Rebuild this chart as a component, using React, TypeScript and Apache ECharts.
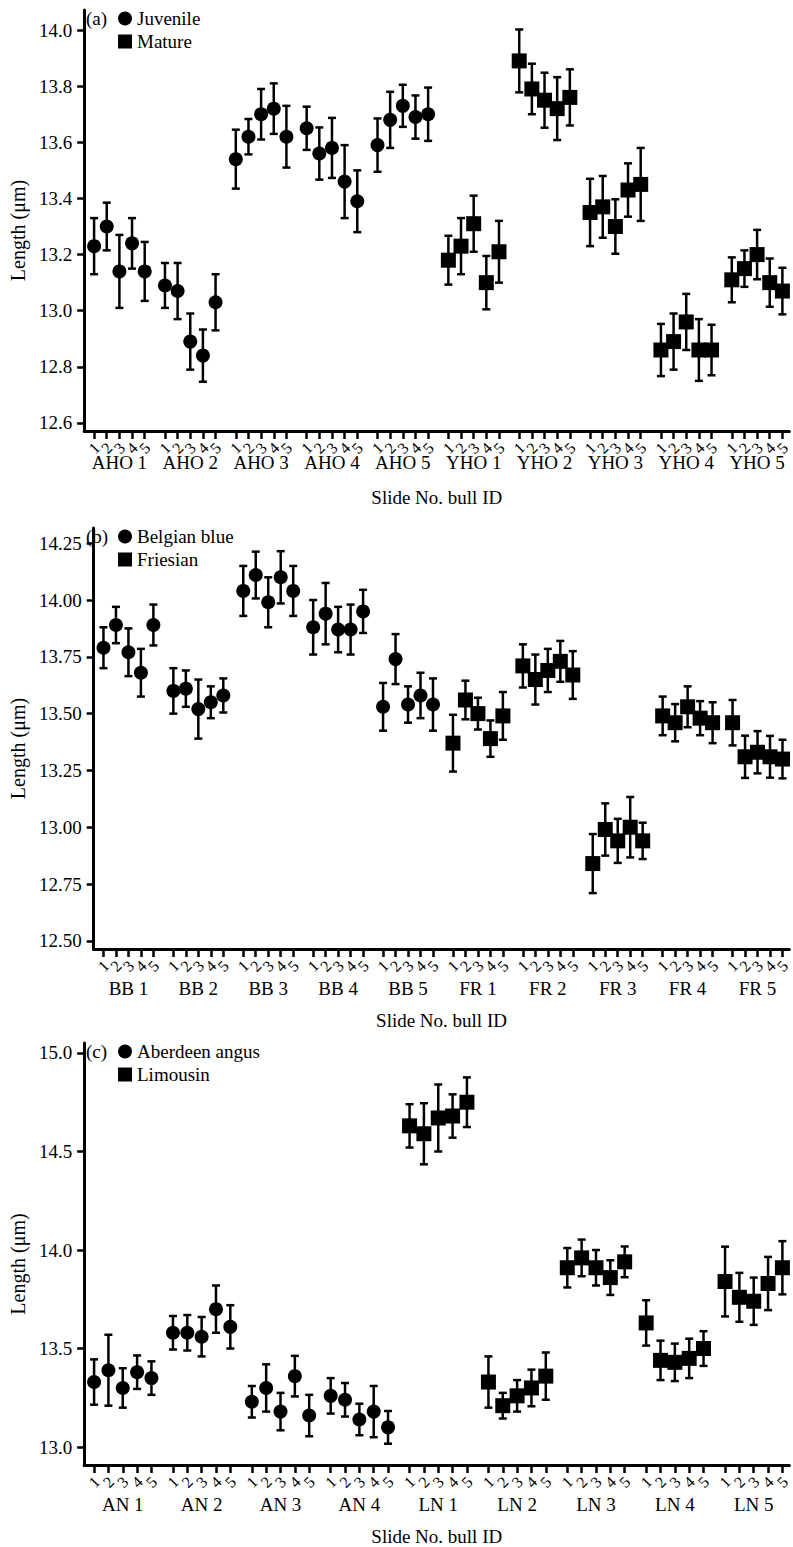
import React, { useEffect, useRef } from 'react';
import * as echarts from 'echarts';

// ---------- DATA ----------
const slideLabels = ['1', '2', '3', '4', '5'];

// Panel (a)
const aGroups = ['AHO 1', 'AHO 2', 'AHO 3', 'AHO 4', 'AHO 5', 'YHO 1', 'YHO 2', 'YHO 3', 'YHO 4', 'YHO 5'];
const aYTicks = [12.6, 12.8, 13.0, 13.2, 13.4, 13.6, 13.8, 14.0];
const aJuvenileMeans = [
  [13.23, 13.30, 13.14, 13.24, 13.14],
  [13.09, 13.07, 12.89, 12.84, 13.03],
  [13.54, 13.62, 13.70, 13.72, 13.62],
  [13.65, 13.56, 13.58, 13.46, 13.39],
  [13.59, 13.68, 13.73, 13.69, 13.70],
];
const aJuvenileErrors = [
  [0.10, 0.085, 0.13, 0.09, 0.105],
  [0.08, 0.10, 0.10, 0.093, 0.10],
  [0.105, 0.063, 0.09, 0.09, 0.11],
  [0.077, 0.093, 0.107, 0.13, 0.11],
  [0.095, 0.10, 0.075, 0.077, 0.095],
];
const aMatureMeans = [
  [13.18, 13.23, 13.31, 13.10, 13.21],
  [13.89, 13.79, 13.75, 13.72, 13.76],
  [13.35, 13.37, 13.30, 13.43, 13.45],
  [12.86, 12.89, 12.96, 12.86, 12.86],
  [13.11, 13.15, 13.20, 13.10, 13.07],
];
const aMatureErrors = [
  [0.087, 0.10, 0.10, 0.095, 0.11],
  [0.112, 0.09, 0.098, 0.112, 0.10],
  [0.12, 0.11, 0.097, 0.095, 0.13],
  [0.093, 0.10, 0.10, 0.11, 0.09],
  [0.08, 0.065, 0.088, 0.086, 0.083],
];

// Panel (b)
const bGroups = ['BB 1', 'BB 2', 'BB 3', 'BB 4', 'BB 5', 'FR 1', 'FR 2', 'FR 3', 'FR 4', 'FR 5'];
const bYTicks = [12.5, 12.75, 13.0, 13.25, 13.5, 13.75, 14.0, 14.25];
const bBelgianMeans = [
  [13.79, 13.89, 13.77, 13.68, 13.89],
  [13.60, 13.61, 13.52, 13.55, 13.58],
  [14.04, 14.11, 13.99, 14.10, 14.04],
  [13.88, 13.94, 13.87, 13.87, 13.95],
  [13.53, 13.74, 13.54, 13.58, 13.54],
];
const bBelgianErrors = [
  [0.09, 0.08, 0.105, 0.105, 0.09],
  [0.10, 0.08, 0.13, 0.07, 0.075],
  [0.11, 0.103, 0.11, 0.115, 0.11],
  [0.12, 0.135, 0.10, 0.11, 0.095],
  [0.105, 0.11, 0.08, 0.10, 0.115],
];
const bFriesianMeans = [
  [13.37, 13.56, 13.50, 13.39, 13.49],
  [13.71, 13.65, 13.69, 13.73, 13.67],
  [12.84, 12.99, 12.94, 13.00, 12.94],
  [13.49, 13.46, 13.53, 13.48, 13.46],
  [13.46, 13.31, 13.33, 13.31, 13.30],
];
const bFriesianErrors = [
  [0.125, 0.085, 0.07, 0.08, 0.105],
  [0.095, 0.11, 0.095, 0.09, 0.105],
  [0.13, 0.115, 0.097, 0.133, 0.08],
  [0.085, 0.082, 0.09, 0.075, 0.09],
  [0.10, 0.093, 0.093, 0.092, 0.085],
];

// Panel (c)
const cGroups = ['AN 1', 'AN 2', 'AN 3', 'AN 4', 'LN 1', 'LN 2', 'LN 3', 'LN 4', 'LN 5'];
const cYTicks = [13.0, 13.5, 14.0, 14.5, 15.0];
const cAngusMeans = [
  [13.33, 13.39, 13.30, 13.38, 13.35],
  [13.58, 13.58, 13.56, 13.70, 13.61],
  [13.23, 13.30, 13.18, 13.36, 13.16],
  [13.26, 13.24, 13.14, 13.18, 13.10],
];
const cAngusErrors = [
  [0.115, 0.18, 0.10, 0.085, 0.085],
  [0.085, 0.09, 0.10, 0.12, 0.11],
  [0.08, 0.12, 0.095, 0.103, 0.105],
  [0.09, 0.085, 0.08, 0.13, 0.083],
];
const cLimousinMeans = [
  [14.63, 14.59, 14.67, 14.68, 14.75],
  [13.33, 13.21, 13.26, 13.30, 13.36],
  [13.91, 13.96, 13.91, 13.86, 13.94],
  [13.63, 13.44, 13.43, 13.45, 13.50],
  [13.84, 13.76, 13.74, 13.83, 13.91],
];
const cLimousinErrors = [
  [0.11, 0.155, 0.17, 0.11, 0.126],
  [0.13, 0.065, 0.08, 0.093, 0.12],
  [0.10, 0.093, 0.09, 0.088, 0.078],
  [0.115, 0.10, 0.095, 0.10, 0.088],
  [0.177, 0.124, 0.12, 0.135, 0.135],
];

const panels = [
  { tag: '(a)', groups: aGroups, yTicks: aYTicks, circleName: 'Juvenile', circleMeans: aJuvenileMeans, circleErr: aJuvenileErrors, squareName: 'Mature', squareMeans: aMatureMeans, squareErr: aMatureErrors },
  { tag: '(b)', groups: bGroups, yTicks: bYTicks, circleName: 'Belgian blue', circleMeans: bBelgianMeans, circleErr: bBelgianErrors, squareName: 'Friesian', squareMeans: bFriesianMeans, squareErr: bFriesianErrors },
  { tag: '(c)', groups: cGroups, yTicks: cYTicks, circleName: 'Aberdeen angus', circleMeans: cAngusMeans, circleErr: cAngusErrors, squareName: 'Limousin', squareMeans: cLimousinMeans, squareErr: cLimousinErrors },
];

// ---------- LAYOUT ----------
const layouts = [
  { top: 10, height: 421, yMin: 12.5714, yMax: 14.0714, pitch: 5.6, xMin: -0.786, xMax: 54.95, decimals: 1, groupMargin: 22, nameGap: 57 },
  { top: 528, height: 421, yMin: 12.464, yMax: 14.317, pitch: 5.6, xMin: -0.786, xMax: 54.95, decimals: 2, groupMargin: 30, nameGap: 62 },
  { top: 1043, height: 424, yMin: 12.909, yMax: 15.0505, pitch: 5.5, xMin: -0.693, xMax: 48.485, decimals: 1, groupMargin: 30, nameGap: 62 },
];

const FONT = "'Liberation Serif', 'Times New Roman', serif";
const INK = '#000';

function buildOption() {
  const grid: any[] = [];
  const xAxis: any[] = [];
  const yAxis: any[] = [];
  const series: any[] = [];
  const legend: any[] = [];
  const title: any[] = [];

  panels.forEach((p, i) => {
    const L = layouts[i];
    const ticks: number[] = [];
    const centers: number[] = [];
    p.groups.forEach((_, g) => {
      for (let s = 0; s < slideLabels.length; s++) ticks.push(g * L.pitch + s);
      centers.push(g * L.pitch + 2);
    });
    const slideFor = (v: number) => {
      const k = ticks.findIndex((t) => Math.abs(t - v) < 1e-6);
      return k < 0 ? '' : slideLabels[k % slideLabels.length];
    };
    const groupFor = (v: number) => {
      const k = centers.findIndex((t) => Math.abs(t - v) < 1e-6);
      return k < 0 ? '' : p.groups[k];
    };

    grid.push({ left: 84, top: L.top, width: 709, height: L.height, containLabel: false });

    xAxis.push({
      type: 'value', gridIndex: i, min: L.xMin, max: L.xMax, position: 'bottom',
      axisLine: { show: true, onZero: false, lineStyle: { color: INK, width: 3 } },
      axisTick: { show: true, customValues: ticks, length: 8, lineStyle: { color: INK, width: 2.5 } },
      axisLabel: {
        customValues: ticks, formatter: (v: number) => slideFor(v), rotate: 45,
        align: 'center', verticalAlign: 'middle', margin: 17,
        fontFamily: FONT, fontSize: 16, color: INK,
      },
      splitLine: { show: false },
    });
    xAxis.push({
      type: 'value', gridIndex: i, min: L.xMin, max: L.xMax, position: 'bottom',
      axisLine: { show: false, onZero: false },
      axisTick: { show: false },
      axisLabel: {
        customValues: centers, formatter: (v: number) => groupFor(v), margin: L.groupMargin,
        fontFamily: FONT, fontSize: 19, color: INK,
      },
      splitLine: { show: false },
      name: 'Slide No. bull ID', nameLocation: 'middle', nameGap: L.nameGap,
      nameTextStyle: { fontFamily: FONT, fontSize: 19, color: INK },
    });

    yAxis.push({
      type: 'value', gridIndex: i, min: L.yMin, max: L.yMax,
      axisLine: { show: true, onZero: false, lineStyle: { color: INK, width: 3 } },
      axisTick: { show: true, customValues: p.yTicks, length: 7, lineStyle: { color: INK, width: 2.5 } },
      axisLabel: {
        customValues: p.yTicks, formatter: (v: number) => v.toFixed(L.decimals), margin: 12,
        fontFamily: FONT, fontSize: 19, color: INK,
      },
      splitLine: { show: false },
      name: 'Length (\u03bcm)', nameLocation: 'middle', nameGap: 56, nameRotate: 90,
      nameTextStyle: { fontFamily: FONT, fontSize: 20, color: INK, padding: [0, 20, 0, 0] },
    });

    const nC = p.circleMeans.length;
    const circleData: any[] = [];
    const squareData: any[] = [];
    const errData: any[] = [];
    p.circleMeans.forEach((row, g) => row.forEach((m, s) => {
      circleData.push([g * L.pitch + s, m]);
      errData.push([g * L.pitch + s, m, p.circleErr[g][s]]);
    }));
    p.squareMeans.forEach((row, gg) => row.forEach((m, s) => {
      const g = gg + nC;
      squareData.push([g * L.pitch + s, m]);
      errData.push([g * L.pitch + s, m, p.squareErr[gg][s]]);
    }));

    series.push({
      type: 'custom', xAxisIndex: 2 * i, yAxisIndex: i, data: errData, silent: true,
      encode: { x: 0, y: 1 },
      renderItem: (params: any, api: any) => {
        const x = api.value(0), y = api.value(1), e = api.value(2);
        const top = api.coord([x, y + e]);
        const bot = api.coord([x, y - e]);
        const cap = 4;
        const st = { stroke: INK, lineWidth: 2.5 };
        return {
          type: 'group',
          children: [
            { type: 'line', shape: { x1: top[0], y1: top[1], x2: bot[0], y2: bot[1] }, style: st },
            { type: 'line', shape: { x1: top[0] - cap, y1: top[1], x2: top[0] + cap, y2: top[1] }, style: st },
            { type: 'line', shape: { x1: bot[0] - cap, y1: bot[1], x2: bot[0] + cap, y2: bot[1] }, style: st },
          ],
        };
      },
    });
    series.push({
      type: 'scatter', name: p.circleName, xAxisIndex: 2 * i, yAxisIndex: i, data: circleData,
      symbol: 'circle', symbolSize: 14, itemStyle: { color: INK, opacity: 1 }, z: 3,
    });
    series.push({
      type: 'scatter', name: p.squareName, xAxisIndex: 2 * i, yAxisIndex: i, data: squareData,
      symbol: 'rect', symbolSize: 15, itemStyle: { color: INK, opacity: 1 }, z: 3,
    });

    legend.push({
      data: [{ name: p.circleName, icon: 'circle' }, { name: p.squareName, icon: 'rect' }],
      orient: 'vertical', left: 118, top: L.top - 1, padding: 0,
      itemWidth: 14, itemHeight: 14, itemGap: 4, selectedMode: false,
      textStyle: { fontFamily: FONT, fontSize: 19, color: INK },
      itemStyle: { color: INK, opacity: 1 },
    });
    title.push({
      text: p.tag, left: 86, top: L.top - 1, padding: 0,
      textStyle: { fontFamily: FONT, fontSize: 19, fontWeight: 'normal', color: INK },
    });
  });

  return {
    animation: false,
    backgroundColor: '#fff',
    textStyle: { fontFamily: FONT },
    title, legend, grid, xAxis, yAxis, series,
  };
}

export default function App() {
  const ref = useRef<HTMLDivElement>(null);
  useEffect(() => {
    if (!ref.current) return;
    const chart = echarts.init(ref.current, undefined, { renderer: 'svg' });
    chart.setOption(buildOption() as any);
    return () => chart.dispose();
  }, []);
  return (
    <div
      ref={ref}
      style={{ position: 'absolute', left: 0, top: 0, width: 793, height: 1547, background: '#fff' }}
    />
  );
}
